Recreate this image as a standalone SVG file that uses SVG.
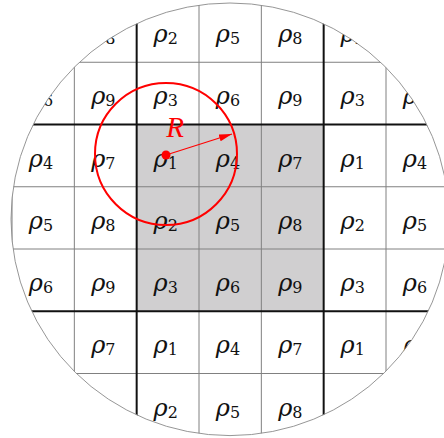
<svg xmlns="http://www.w3.org/2000/svg" width="444" height="438" viewBox="0 0 444 438">
<style>
.thin{stroke:#808080;stroke-width:1;fill:none}
.thick{stroke:#111;stroke-width:2;fill:none}
.lb{font-family:"DejaVu Serif","Liberation Serif",serif;font-size:24px;font-style:italic;fill:#111;text-anchor:middle}
.sb{font-style:normal;font-size:16px}
.red{stroke:#f00;fill:none}
</style>
<defs>
<clipPath id="disk"><ellipse cx="230" cy="219.3" rx="219" ry="216.3"/></clipPath>
<marker id="ah" markerUnits="userSpaceOnUse" markerWidth="14" markerHeight="8" refX="13" refY="4" orient="auto"><path d="M0,0.5 L13,4 L0,7.5 Z" fill="#f00"/></marker>
</defs>
<rect width="444" height="438" fill="#fff"/>
<g id="grid" clip-path="url(#disk)">
<rect id="block" x="136.67" y="124.5" width="187" height="186.75" fill="#d0cfd0"/>
<g id="thin-lines" class="thin">
<path d="M12,0V438M74.33,0V438M199,0V438M261.33,0V438M386,0V438"/>
<path d="M0,62.25H444M0,186.75H444M0,249H444M0,373.5H444"/>
</g>
<g id="thick-lines" class="thick">
<path d="M136.67,0V438M323.67,0V438M0,124.5H444M0,311.25H444"/>
</g>
<g id="labels" class="lb">
<text x="103.3" y="42">ρ<tspan class="sb" dy="2">8</tspan></text>
<text x="165.7" y="42">ρ<tspan class="sb" dy="2">2</tspan></text>
<text x="228" y="42">ρ<tspan class="sb" dy="2">5</tspan></text>
<text x="290.3" y="42">ρ<tspan class="sb" dy="2">8</tspan></text>
<text x="352.7" y="42">ρ<tspan class="sb" dy="2">2</tspan></text>

<text x="41" y="104.25">ρ<tspan class="sb" dy="2">6</tspan></text>
<text x="103.3" y="104.25">ρ<tspan class="sb" dy="2">9</tspan></text>
<text x="165.7" y="104.25">ρ<tspan class="sb" dy="2">3</tspan></text>
<text x="228" y="104.25">ρ<tspan class="sb" dy="2">6</tspan></text>
<text x="290.3" y="104.25">ρ<tspan class="sb" dy="2">9</tspan></text>
<text x="352.7" y="104.25">ρ<tspan class="sb" dy="2">3</tspan></text>
<text x="415" y="104.25">ρ<tspan class="sb" dy="2">6</tspan></text>

<text x="41" y="166.5">ρ<tspan class="sb" dy="2">4</tspan></text>
<text x="103.3" y="166.5">ρ<tspan class="sb" dy="2">7</tspan></text>
<text x="165.7" y="166.5">ρ<tspan class="sb" dy="2">1</tspan></text>
<text x="228" y="166.5">ρ<tspan class="sb" dy="2">4</tspan></text>
<text x="290.3" y="166.5">ρ<tspan class="sb" dy="2">7</tspan></text>
<text x="352.7" y="166.5">ρ<tspan class="sb" dy="2">1</tspan></text>
<text x="415" y="166.5">ρ<tspan class="sb" dy="2">4</tspan></text>

<text x="41" y="228.75">ρ<tspan class="sb" dy="2">5</tspan></text>
<text x="103.3" y="228.75">ρ<tspan class="sb" dy="2">8</tspan></text>
<text x="165.7" y="228.75">ρ<tspan class="sb" dy="2">2</tspan></text>
<text x="228" y="228.75">ρ<tspan class="sb" dy="2">5</tspan></text>
<text x="290.3" y="228.75">ρ<tspan class="sb" dy="2">8</tspan></text>
<text x="352.7" y="228.75">ρ<tspan class="sb" dy="2">2</tspan></text>
<text x="415" y="228.75">ρ<tspan class="sb" dy="2">5</tspan></text>

<text x="41" y="291">ρ<tspan class="sb" dy="2">6</tspan></text>
<text x="103.3" y="291">ρ<tspan class="sb" dy="2">9</tspan></text>
<text x="165.7" y="291">ρ<tspan class="sb" dy="2">3</tspan></text>
<text x="228" y="291">ρ<tspan class="sb" dy="2">6</tspan></text>
<text x="290.3" y="291">ρ<tspan class="sb" dy="2">9</tspan></text>
<text x="352.7" y="291">ρ<tspan class="sb" dy="2">3</tspan></text>
<text x="415" y="291">ρ<tspan class="sb" dy="2">6</tspan></text>

<text x="103.3" y="353.25">ρ<tspan class="sb" dy="2">7</tspan></text>
<text x="165.7" y="353.25">ρ<tspan class="sb" dy="2">1</tspan></text>
<text x="228" y="353.25">ρ<tspan class="sb" dy="2">4</tspan></text>
<text x="290.3" y="353.25">ρ<tspan class="sb" dy="2">7</tspan></text>
<text x="352.7" y="353.25">ρ<tspan class="sb" dy="2">1</tspan></text>
<text x="415" y="353.25">ρ<tspan class="sb" dy="2">4</tspan></text>

<text x="165.7" y="415.5">ρ<tspan class="sb" dy="2">2</tspan></text>
<text x="228" y="415.5">ρ<tspan class="sb" dy="2">5</tspan></text>
<text x="290.3" y="415.5">ρ<tspan class="sb" dy="2">8</tspan></text>
<text x="352.7" y="415.5">ρ<tspan class="sb" dy="2">2</tspan></text>
</g>
</g>
<ellipse id="boundary" cx="230" cy="219.3" rx="219" ry="216.3" fill="none" stroke="#8a8a8a" stroke-width="0.9"/>
<g id="radius-circle">
<circle class="red" cx="166" cy="154" r="71" stroke-width="2"/>
<circle cx="166" cy="155" r="4.5" fill="#f00"/>
<text x="175" y="137" font-family="'Liberation Serif',serif" font-size="29" font-style="italic" fill="#f00" text-anchor="middle">R</text>
</g>
<g id="connectors">
<line class="red" x1="166" y1="155" x2="232" y2="134" stroke-width="1.1" marker-end="url(#ah)"/>
</g>
</svg>
